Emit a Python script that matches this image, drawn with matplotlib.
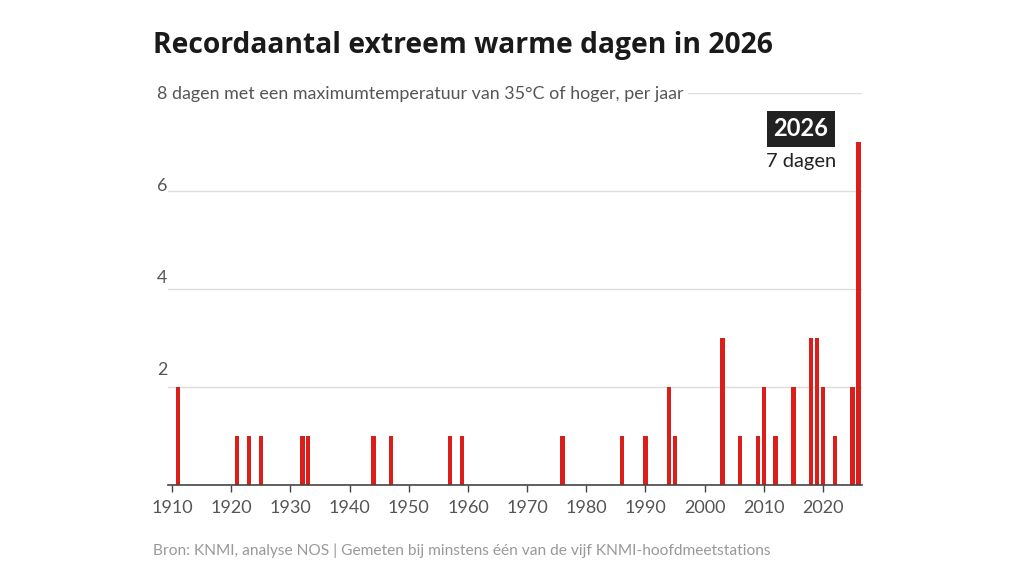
import matplotlib
matplotlib.use("Agg")
import matplotlib.pyplot as plt
import matplotlib.transforms as mtransforms

years = [1911, 1921, 1923, 1925, 1932, 1933, 1944, 1947, 1957, 1959,
         1976, 1986, 1990, 1994, 1995, 2003, 2006, 2009, 2010, 2012,
         2015, 2018, 2019, 2020, 2022, 2025, 2026]
days = [2, 1, 1, 1, 1, 1, 1, 1, 1, 1,
        1, 1, 1, 2, 1, 3, 1, 1, 2, 1,
        2, 3, 3, 2, 1, 2, 7]
x_ticks = [1910, 1920, 1930, 1940, 1950, 1960, 1970, 1980, 1990, 2000, 2010, 2020]
y_ticks = [2, 4, 6, 8]
y_labels = ["2", "4", "6", "8 dagen met een maximumtemperatuur van 35°C of hoger, per jaar"]

title = "Recordaantal extreem warme dagen in 2026"
source = "Bron: KNMI, analyse NOS | Gemeten bij minstens één van de vijf KNMI-hoofdmeetstations"

plt.rcParams['font.family'] = ['Lato', 'DejaVu Sans']

W, H = 1024, 576
fig = plt.figure(figsize=(W / 100, H / 100), dpi=100)
fig.patch.set_facecolor('white')

left, right, bottom, top = 168, 862, 485, 93
ax = fig.add_axes([left / W, (H - bottom) / H, (right - left) / W, (bottom - top) / H])
ax.set_xlim(1909.3, 2026.6)
ax.set_ylim(0, 8)

ax.bar(years, days, width=0.75, color='#dc1e1a', zorder=3)

for s in ['top', 'right', 'left']:
    ax.spines[s].set_visible(False)
ax.spines['bottom'].set_color('#444444')
ax.spines['bottom'].set_linewidth(1.2)
ax.spines['bottom'].set_zorder(4)

ax.set_xticks(x_ticks)
ax.set_xticklabels([str(t) for t in x_ticks], fontsize=13, color='#555555')
ax.tick_params(axis='x', length=5, width=1, color='#444444', pad=6)
ax.set_yticks([])

for yv in y_ticks:
    ax.axhline(yv, color='#dddddd', linewidth=1, zorder=1)

lab_trans = mtransforms.blended_transform_factory(fig.transFigure, ax.transData)
for yv, lab in zip(y_ticks, y_labels):
    # labels sit progressively higher above their gridline (as in the original)
    off = mtransforms.ScaledTranslation(0, (8 - yv) * 3.1 / 100, fig.dpi_scale_trans)
    fig.text(157 / W, yv, lab, fontsize=12.9, color='#555555', ha='left', va='center_baseline',
             transform=lab_trans + off,
             bbox=dict(facecolor='white', edgecolor='none', pad=3) if yv == 8 else None,
             zorder=5)

fig.text(153 / W, 1 - 45 / H, title, fontsize=20.3, fontweight='bold', color='#1a1a1a',
         ha='left', va='center', family=['Open Sans', 'DejaVu Sans'])
fig.text(153 / W, 1 - 551 / H, source, fontsize=11.2, color='#999999', ha='left', va='center')

ax.annotate("2026", xy=(801 / W, 1 - 129 / H), xycoords='figure fraction',
            fontsize=17, fontweight='bold', color='white', ha='center', va='center',
            bbox=dict(facecolor='#222222', edgecolor='none', pad=5))
ax.annotate("7 dagen", xy=(801 / W, 1 - 161 / H), xycoords='figure fraction',
            fontsize=14.5, color='#222222', ha='center', va='center')

fig.savefig("out.png", dpi=100, facecolor='white')
